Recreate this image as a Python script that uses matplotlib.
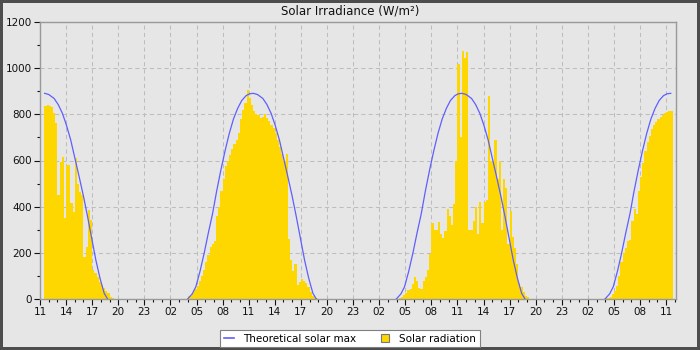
import numpy as np
import matplotlib
matplotlib.use('Agg')
import matplotlib.pyplot as plt
from matplotlib.lines import Line2D

# solar radiation (W/m2), 15 minute bins
# hours are counted from 00:00 of the first day
day1_start = 11.5
day1_rad = [835, 840, 836, 833, 804, 761, 450, 595, 615, 350, 580, 580, 415, 378,
            610, 500, 465, 450, 183, 227, 385, 342, 125, 114, 97, 75, 60, 46, 36,
            25, 10, 3]

day2_start = 24 + 4.0
day2_rad = [13, 15, 27, 45, 56, 80, 100, 125, 160, 190, 225, 240, 250, 360, 400,
            470, 520, 575, 600, 625, 650, 670, 690, 720, 780, 820, 850, 905, 870,
            840, 815, 800, 795, 785, 790, 800, 785, 770, 755, 740, 720, 690, 660,
            630, 600, 630, 260, 170, 120, 150, 60, 75, 85, 80, 70, 50, 30, 15, 8, 5]

day3_start = 48 + 4.25
day3_rad = [5, 10, 18, 25, 39, 45, 65, 97, 80, 46, 45, 80, 95, 125, 195, 328, 300,
            300, 335, 280, 265, 295, 390, 360, 320, 410, 600, 1020, 700, 1075, 1043,
            1070, 300, 300, 340, 400, 280, 420, 330, 420, 430, 880, 600, 600, 690,
            520, 600, 300, 520, 480, 240, 380, 270, 220, 150, 70, 50, 32, 15, 10]

day4_start = 72 + 4.0
day4_rad = [3, 5, 10, 20, 35, 55, 100, 160, 198, 220, 250, 256, 340, 390, 370, 470,
            530, 590, 640, 680, 705, 735, 755, 768, 780, 790, 797, 804, 809, 813, 815]

# theoretical clear sky maximum, time of day (h) and value
theo_hours = [3.97, 4.5, 4.92, 5.4, 5.88, 6.35, 6.85, 7.3, 7.8, 8.3, 8.77, 9.25,
              9.73, 10.2, 10.7, 11.1, 11.53, 12.0, 12.62, 13.1, 13.58, 14.05,
              14.53, 15.0, 15.5, 16.0, 16.47, 16.95, 17.42, 17.9, 18.38, 18.77]
theo_vals = [0, 22, 53, 120, 199, 285, 371, 465, 559, 645, 718, 780,
             826, 860, 881, 889, 891, 886, 869, 842, 804, 752,
             689, 612, 530, 445, 357, 262, 169, 90, 25, 0]

data_first = 11.58
data_last = 83.65

# x tick labels every 3 hours
tick_hours = list(range(11, 84, 3))
tick_labels = ['%02d' % (h % 24) for h in tick_hours]

fig = plt.figure(figsize=(7, 3.5), dpi=100)
fig.patch.set_facecolor('#e6e6e6')
fig.patch.set_edgecolor('#4d4d4d')
fig.patch.set_linewidth(3)

ax = fig.add_axes([40 / 700, 1 - 299 / 350, 635.7 / 700, 277 / 350])
ax.set_facecolor('#e6e6e6')
ax.set_axisbelow(True)

for start, vals in [(day1_start, day1_rad), (day2_start, day2_rad),
                    (day3_start, day3_rad), (day4_start, day4_rad)]:
    xs = start + 0.25 * np.arange(len(vals))
    ax.bar(xs, vals, width=0.25, align='edge', color='#ffd700', linewidth=0, zorder=2)

for d in range(4):
    xs = np.array(theo_hours) + 24 * d
    ys = np.array(theo_vals)
    keep = (xs >= data_first - 0.1) & (xs <= data_last)
    ax.plot(xs[keep], ys[keep], color='#5f5fff', linewidth=0.9, zorder=3)

ax.set_xlim(11, 84.1)
ax.set_ylim(0, 1200)
ax.set_xticks(tick_hours)
ax.set_xticklabels(tick_labels)
ax.set_xticks(range(11, 85), minor=True)
ax.set_yticks(range(0, 1201, 200))
ax.set_yticks(range(0, 1201, 100), minor=True)
ax.tick_params(axis='both', which='major', length=4, width=0.8, labelsize=7.5,
               colors='#111111', pad=2)
ax.tick_params(axis='both', which='minor', length=2.5, width=0.8, colors='#111111')
ax.grid(True, which='major', color='#bdbdbd', linestyle=(0, (4, 3)), linewidth=0.75)
for s in ax.spines.values():
    s.set_color('#999999')
    s.set_linewidth(1)

fig.text(0.5, 0.97, 'Solar Irradiance (W/m\u00b2)', ha='center', va='center',
         fontsize=8.5, color='#111111')

handles = [Line2D([], [], color='#5f5fff', linewidth=1.2),
           Line2D([], [], marker='s', linestyle='None', markersize=5.5,
                  markerfacecolor='#ffd700', markeredgecolor='#777777', markeredgewidth=0.8)]
leg = fig.legend(handles, ['Theoretical solar max', 'Solar radiation'],
                 loc='lower center', bbox_to_anchor=(0.5, 0.008), ncol=2,
                 fontsize=7.5, frameon=True, fancybox=False, framealpha=1,
                 facecolor='white', edgecolor='#808080', handlelength=1.0,
                 handletextpad=0.9, columnspacing=2.2, borderpad=0.35,
                 borderaxespad=0)
leg.get_frame().set_linewidth(0.8)

fig.savefig('out.png', dpi=100, facecolor=fig.get_facecolor(), edgecolor=fig.get_edgecolor())
